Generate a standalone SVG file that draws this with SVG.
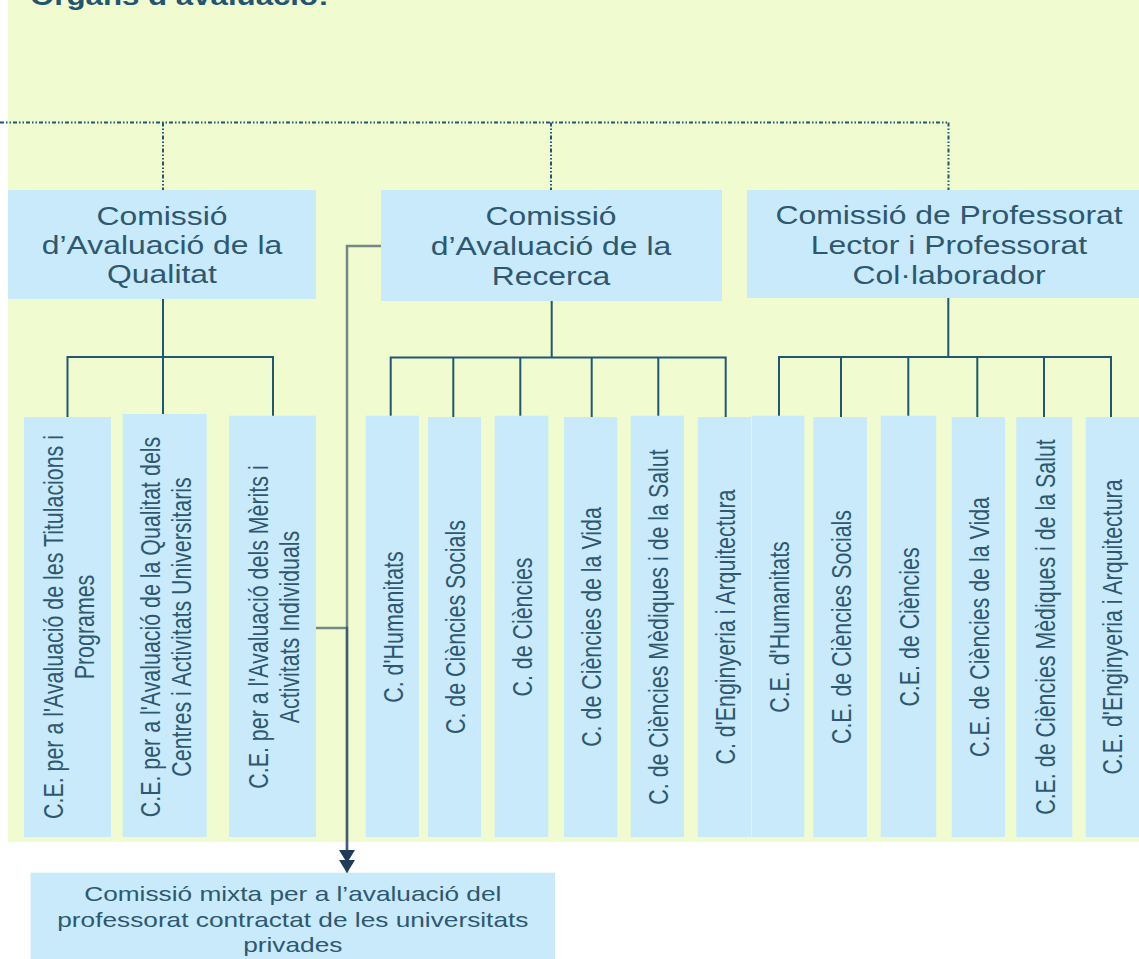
<svg xmlns="http://www.w3.org/2000/svg" width="1139" height="959" viewBox="0 0 1139 959">
<defs>
<style>
.bg{fill:#F1FBD0}
.box{fill:#C8EAFB}
.t{font-family:"Liberation Sans",Arial,sans-serif;fill:#2E5870;text-anchor:middle}
.top{font-size:25.5px}
.rot{font-size:21.4px}
.bot{font-size:21px}
.ttl{font-family:"Liberation Sans",Arial,sans-serif;font-weight:bold;font-size:25px;fill:#1E5673}
.ln{stroke:#1E5873;stroke-width:2;fill:none}
.dot{stroke:#1E5873;stroke-width:2;fill:none;stroke-dasharray:4 2 1.5 2 1.5 2}
.gl{stroke:#1F3C5A;stroke-opacity:0.6;stroke-width:2.5;fill:none}
</style>
<marker id="ah" markerUnits="userSpaceOnUse" markerWidth="14" markerHeight="16" refX="13" refY="8" orient="auto">
<path d="M0,0 L13,8 L0,16 Z" fill="#1F3C5A"/>
</marker>
</defs>

<rect class="bg" x="8" y="0" width="1131" height="842"/>
<g id="title" transform="translate(30,0) scale(1.25,1)">
<text class="ttl" x="0" y="5">Òrgans d’avaluació:</text>
</g>

<g id="connectors">
<path class="dot" d="M0,122.5 H948.5 M163,122.5 V190 M551,122.5 V190 M948.5,122.5 V190"/>
<path class="ln" d="M163,299 V357 H67.5 V417 M163,357 V414 M163,357 H273 V416"/>
<path class="ln" d="M551.7,301 V357.5 H390.7 V416 M453.3,357.5 V417 M520.3,357.5 V416 M551.7,357.5 H725.7 V417 M591.7,357.5 V417 M658.3,357.5 V416"/>
<path class="ln" d="M948.3,298 V357 H779 V416 M841,357 V417 M908.3,357 V416 M948.3,357 H1111 V417 M977.3,357 V417 M1044,357 V417"/>
<path class="gl" d="M381,246 H347 V863" marker-end="url(#ah)"/>
<path class="gl" d="M316,628 H347 V873" marker-end="url(#ah)"/>
</g>

<g id="n-qualitat">
<rect class="box" x="8" y="190" width="308" height="109"/>
<g transform="translate(162,0) scale(1.25,1)">
<text class="t top" x="0" y="225">Comissió</text>
<text class="t top" x="0" y="254">d’Avaluació de la</text>
<text class="t top" x="0" y="283">Qualitat</text>
</g>
</g>
<g id="n-recerca">
<rect class="box" x="381" y="190" width="341" height="111"/>
<g transform="translate(551,0) scale(1.25,1)">
<text class="t top" x="0" y="225">Comissió</text>
<text class="t top" x="0" y="255">d’Avaluació de la</text>
<text class="t top" x="0" y="285">Recerca</text>
</g>
</g>
<g id="n-professorat">
<rect class="box" x="747" y="190" width="392" height="108"/>
<g transform="translate(949,0) scale(1.25,1)">
<text class="t top" x="0" y="224">Comissió de Professorat</text>
<text class="t top" x="0" y="254">Lector i Professorat</text>
<text class="t top" x="0" y="284">Col·laborador</text>
</g>
</g>

<g id="n-ce-titulacions">
<rect class="box" x="24" y="417" width="87" height="420"/>
<text class="t rot" transform="translate(67.5,627) scale(1.33,1) rotate(-90)"><tspan x="0" y="-3.4">C.E.  per a l'Avaluació de les  Titulacions i</tspan><tspan x="0" y="19.9">Programes</tspan></text>
</g>
<g id="n-ce-centres">
<rect class="box" x="122.7" y="414" width="84" height="423"/>
<text class="t rot" transform="translate(164.7,627) scale(1.33,1) rotate(-90)"><tspan x="0" y="-3.4">C.E.  per a l'Avaluació de la Qualitat dels</tspan><tspan x="0" y="19.9">Centres i Activitats Universitaris</tspan></text>
</g>
<g id="n-ce-merits">
<rect class="box" x="229" y="415.7" width="87" height="421.3"/>
<text class="t rot" transform="translate(272.5,627) scale(1.33,1) rotate(-90)"><tspan x="0" y="-3.4">C.E.  per a l'Avaluació dels Mèrits i</tspan><tspan x="0" y="19.9">Activitats Individuals</tspan></text>
</g>

<g id="n-c-humanitats">
<rect class="box" x="365.7" y="415.7" width="53.3" height="421.3"/>
<text class="t rot" transform="translate(392.3,627) scale(1.33,1) rotate(-90)" y="7.9">C. d'Humanitats</text>
</g>
<g id="n-c-socials">
<rect class="box" x="428" y="417" width="53" height="420"/>
<text class="t rot" transform="translate(454.5,627) scale(1.33,1) rotate(-90)" y="7.9">C. de Ciències  Socials</text>
</g>
<g id="n-c-ciencies">
<rect class="box" x="494.7" y="415.7" width="53.6" height="421.3"/>
<text class="t rot" transform="translate(521.5,627) scale(1.33,1) rotate(-90)" y="7.9">C.  de Ciències</text>
</g>
<g id="n-c-vida">
<rect class="box" x="564" y="417" width="53.3" height="420"/>
<text class="t rot" transform="translate(590.7,627) scale(1.33,1) rotate(-90)" y="7.9">C. de Ciències de la Vida</text>
</g>
<g id="n-c-mediques">
<rect class="box" x="630.7" y="415.7" width="53.3" height="421.3"/>
<text class="t rot" transform="translate(657.3,627) scale(1.33,1) rotate(-90)" y="7.9">C. de Ciències Mèdiques i de la Salut</text>
</g>
<g id="n-c-enginyeria">
<rect class="box" x="697.7" y="417" width="53.3" height="420"/>
<text class="t rot" transform="translate(724.3,627) scale(1.33,1) rotate(-90)" y="7.9">C. d'Enginyeria i Arquitectura</text>
</g>

<g id="n-ce-humanitats">
<rect class="box" x="751.7" y="415.7" width="52.6" height="421.3"/>
<text class="t rot" transform="translate(778,627) scale(1.33,1) rotate(-90)" y="7.9">C.E.  d'Humanitats</text>
</g>
<g id="n-ce-socials">
<rect class="box" x="813.3" y="417" width="53.7" height="420"/>
<text class="t rot" transform="translate(840.2,627) scale(1.33,1) rotate(-90)" y="7.9">C.E. de Ciències Socials</text>
</g>
<g id="n-ce-ciencies">
<rect class="box" x="880.7" y="415.7" width="55.6" height="421.3"/>
<text class="t rot" transform="translate(908.5,627) scale(1.33,1) rotate(-90)" y="7.9">C.E. de Ciències</text>
</g>
<g id="n-ce-vida">
<rect class="box" x="951.7" y="417" width="53.3" height="420"/>
<text class="t rot" transform="translate(978.3,627) scale(1.33,1) rotate(-90)" y="7.9">C.E. de Ciències de la Vida</text>
</g>
<g id="n-ce-mediques">
<rect class="box" x="1016.3" y="417" width="56" height="420"/>
<text class="t rot" transform="translate(1044.3,627) scale(1.33,1) rotate(-90)" y="7.9">C.E. de Ciències Mèdiques i de la Salut</text>
</g>
<g id="n-ce-enginyeria">
<rect class="box" x="1085.7" y="417" width="53.3" height="420"/>
<text class="t rot" transform="translate(1111,627) scale(1.33,1) rotate(-90)" y="7.9">C.E. d'Enginyeria i Arquitectura</text>
</g>

<g id="n-mixta">
<rect class="box" x="30.6" y="872.7" width="524.4" height="90"/>
<g transform="translate(292.8,0) scale(1.25,1)">
<text class="t bot" x="0" y="901.5">Comissió mixta per a l’avaluació del</text>
<text class="t bot" x="0" y="927.5">professorat contractat de les universitats</text>
<text class="t bot" x="0" y="952.5">privades</text>
</g>
</g>
</svg>
